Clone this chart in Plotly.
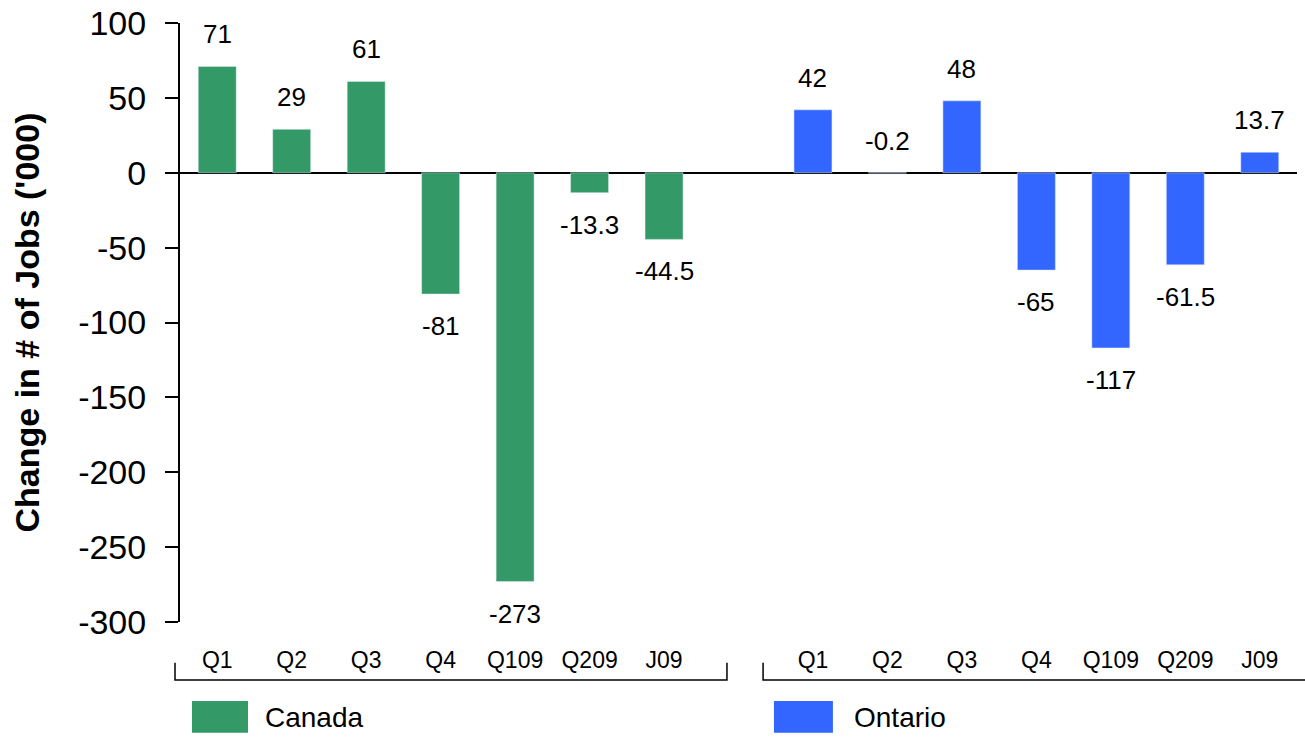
import plotly.graph_objects as go

categories = ["Q1", "Q2", "Q3", "Q4", "Q109", "Q209", "J09"]
canada = [71, 29, 61, -81, -273, -13.3, -44.5]
ontario = [42, -0.2, 48, -65, -117, -61.5, 13.7]
canada_labels = ["71", "29", "61", "-81", "-273", "-13.3", "-44.5"]
ontario_labels = ["42", "-0.2", "48", "-65", "-117", "-61.5", "13.7"]
y_ticks = [100, 50, 0, -50, -100, -150, -200, -250, -300]

GREEN = "#339966"
BLUE = "#3366FF"
FONT = "Liberation Sans, Arial, sans-serif"

n = len(categories)
x_can = list(range(n))
x_ont = [i + n + 1 for i in range(n)]
XMIN, XMAX = -0.5, 2 * n + 0.5


def xp(x):
    """data x -> paper x"""
    return (x - XMIN) / (XMAX - XMIN)


fig = go.Figure()
fig.add_trace(go.Bar(x=x_can, y=canada, marker_color=GREEN, width=0.51,
                     name="Canada", showlegend=False))
fig.add_trace(go.Bar(x=x_ont, y=ontario, marker_color=BLUE, width=0.51,
                     name="Ontario", showlegend=False))

annotations = []
for xs, vals, labs in ((x_can, canada, canada_labels), (x_ont, ontario, ontario_labels)):
    for x, v, t in zip(xs, vals, labs):
        above = v > -1
        annotations.append(dict(x=x, y=v, xref="x", yref="y", text=t, showarrow=False,
                                yshift=32 if above else -32,
                                font=dict(size=26, color="black", family=FONT)))

# legend drawn manually
shapes = []
legend_items = [("Canada", GREEN, -0.339, 0.413, 0.62), ("Ontario", BLUE, 7.476, 8.268, 8.53)]
for name, col, x0, x1, xt in legend_items:
    shapes.append(dict(type="rect", xref="paper", yref="paper", x0=xp(x0), x1=xp(x1),
                       y0=-0.185, y1=-0.132, fillcolor=col, line=dict(width=0)))
    annotations.append(dict(x=xp(xt), y=-0.16, xref="paper", yref="paper", text=name,
                            showarrow=False, xanchor="left", yanchor="middle",
                            font=dict(size=28, color="black", family=FONT)))

# group brackets
for x0, x1 in ((-0.567, 6.845), (7.33, 15.3)):
    a, b = xp(x0), xp(x1)
    shapes.append(dict(type="path", xref="paper", yref="paper",
                       path=f"M {a},-0.068 L {a},-0.097 L {b},-0.097 L {b},-0.068",
                       line=dict(color="black", width=1.5)))

fig.update_layout(
    width=1305, height=741,
    margin=dict(l=180, r=8, t=23, b=119, autoexpand=False),
    plot_bgcolor="white", paper_bgcolor="white",
    font=dict(family=FONT, color="black"),
    hovermode=False,
    shapes=shapes,
    annotations=annotations,
    xaxis=dict(range=[XMIN, XMAX], tickvals=x_can + x_ont, ticktext=categories + categories,
               showgrid=False, zeroline=False, showline=False, ticks="",
               tickfont=dict(size=23, color="black", family=FONT),
               ticklabelstandoff=22),
    yaxis=dict(range=[-300, 100], tickvals=y_ticks, ticktext=[str(v) for v in y_ticks],
               showgrid=False,
               zeroline=True, zerolinecolor="black", zerolinewidth=2,
               showline=True, linecolor="black", linewidth=2,
               ticks="outside", ticklen=13, tickwidth=2, tickcolor="black",
               ticklabeloverflow="allow", ticklabelstandoff=12,
               tickfont=dict(size=34, color="black", family=FONT),
               title=dict(text="<b>Change in # of Jobs ('000)</b>", standoff=28,
                          font=dict(size=34, color="black", family=FONT))),
)

fig.write_html("out.html",
               config={"displayModeBar": False},
               post_script="document.body.style.margin='0';document.body.style.overflow='hidden';")
